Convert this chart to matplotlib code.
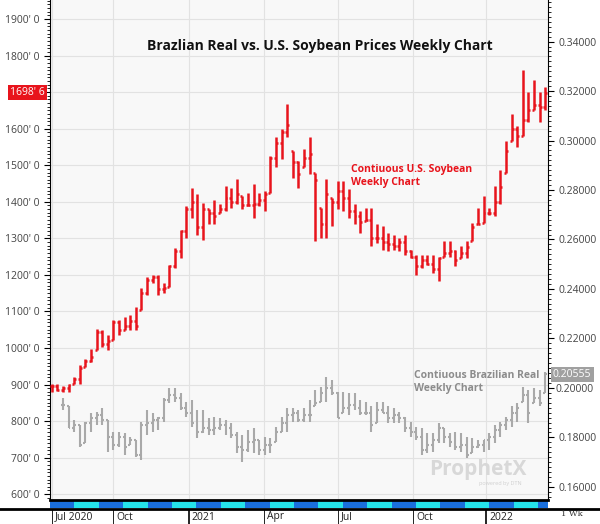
import numpy as np
import matplotlib
matplotlib.use("Agg")
import matplotlib.pyplot as plt
import matplotlib.transforms as mtransforms
from matplotlib.ticker import MultipleLocator, FuncFormatter

RED = "#e8141c"
GRAY = "#a9a9a9"
BG = "#f8f8f8"
GRID = "#e2e2e2"

plt.rcParams["font.family"] = ["Open Sans", "DejaVu Sans"]

# weekly soybean bars (cents/bu)
soy_high = [902, 902, 897, 902, 920, 952, 971, 998, 1053, 1049,
            1035, 1076, 1076, 1085, 1090, 1113, 1163, 1195, 1200, 1200,
            1177, 1228, 1273, 1324, 1388, 1439, 1420, 1397, 1379, 1406,
            1393, 1443, 1439, 1461, 1416, 1425, 1448, 1425, 1430, 1526,
            1576, 1599, 1668, 1539, 1512, 1544, 1576, 1480, 1383, 1461,
            1410, 1457, 1457, 1434, 1393, 1374, 1383, 1383, 1338, 1333,
            1315, 1310, 1301, 1310, 1269, 1255, 1255, 1255, 1255, 1250,
            1292, 1292, 1269, 1278, 1292, 1342, 1383, 1416, 1383, 1443,
            1488, 1567, 1640, 1608, 1760, 1700, 1732, 1700, 1714]
soy_low = [879, 883, 879, 879, 902, 902, 948, 961, 994, 1003,
           994, 1021, 1035, 1049, 1049, 1049, 1104, 1145, 1177, 1145,
           1150, 1168, 1218, 1246, 1301, 1356, 1310, 1296, 1338, 1338,
           1370, 1374, 1383, 1393, 1379, 1388, 1356, 1388, 1374, 1425,
           1494, 1517, 1576, 1466, 1439, 1494, 1475, 1292, 1301, 1301,
           1333, 1379, 1374, 1356, 1338, 1315, 1347, 1278, 1287, 1269,
           1264, 1269, 1264, 1255, 1246, 1200, 1218, 1228, 1205, 1182,
           1250, 1250, 1223, 1246, 1246, 1292, 1338, 1342, 1365, 1361,
           1393, 1480, 1567, 1549, 1581, 1617, 1650, 1617, 1650]
soy_close = [895, 885, 890, 900, 915, 945, 965, 975, 1045, 1010,
             1020, 1070, 1050, 1060, 1075, 1060, 1150, 1185, 1195, 1160,
             1165, 1225, 1265, 1320, 1380, 1400, 1330, 1380, 1370, 1360,
             1380, 1410, 1400, 1420, 1390, 1390, 1395, 1405, 1420, 1520,
             1560, 1590, 1610, 1510, 1475, 1520, 1530, 1460, 1340, 1420,
             1400, 1430, 1410, 1375, 1360, 1345, 1350, 1300, 1300, 1290,
             1285, 1280, 1290, 1265, 1250, 1225, 1240, 1230, 1215, 1245,
             1260, 1265, 1240, 1260, 1275, 1330, 1340, 1370, 1370, 1400,
             1440, 1540, 1600, 1580, 1625, 1650, 1665, 1660, 1698.75]

# weekly Brazilian real bars (USD per BRL)
brl_high = [0.1958, 0.1925, 0.1871, 0.1851, 0.1864, 0.1898, 0.1904, 0.1918, 0.1871, 0.1823,
            0.1823, 0.1817, 0.1803, 0.1790, 0.1864, 0.1911, 0.1898, 0.1884, 0.1958, 0.1999,
            0.1999, 0.1978, 0.1945, 0.1952, 0.1911, 0.1911, 0.1878, 0.1884, 0.1878, 0.1871,
            0.1857, 0.1823, 0.1810, 0.1830, 0.1837, 0.1790, 0.1803, 0.1797, 0.1844, 0.1884,
            0.1918, 0.1918, 0.1911, 0.1918, 0.1952, 0.1992, 0.2005, 0.2046, 0.2032, 0.1985,
            0.1985, 0.1978, 0.1978, 0.1952, 0.1945, 0.1925, 0.1945, 0.1945, 0.1925, 0.1918,
            0.1904, 0.1884, 0.1864, 0.1844, 0.1837, 0.1817, 0.1817, 0.1857, 0.1837, 0.1817,
            0.1823, 0.1817, 0.1803, 0.1797, 0.1790, 0.1790, 0.1817, 0.1851, 0.1864, 0.1884,
            0.1925, 0.1938, 0.2005, 0.1992, 0.1999, 0.1992, 0.2066]
brl_low = [0.1911, 0.1837, 0.1823, 0.1763, 0.1777, 0.1823, 0.1851, 0.1851, 0.1743, 0.1750,
           0.1763, 0.1729, 0.1770, 0.1722, 0.1709, 0.1810, 0.1823, 0.1830, 0.1864, 0.1938,
           0.1945, 0.1911, 0.1884, 0.1844, 0.1797, 0.1817, 0.1810, 0.1810, 0.1830, 0.1810,
           0.1797, 0.1736, 0.1702, 0.1743, 0.1736, 0.1729, 0.1729, 0.1736, 0.1783, 0.1823,
           0.1823, 0.1864, 0.1864, 0.1864, 0.1864, 0.1925, 0.1945, 0.1945, 0.1972, 0.1878,
           0.1898, 0.1891, 0.1911, 0.1891, 0.1891, 0.1823, 0.1857, 0.1898, 0.1857, 0.1857,
           0.1857, 0.1823, 0.1803, 0.1790, 0.1729, 0.1736, 0.1743, 0.1777, 0.1777, 0.1763,
           0.1750, 0.1743, 0.1716, 0.1736, 0.1756, 0.1743, 0.1750, 0.1777, 0.1803, 0.1830,
           0.1844, 0.1864, 0.1945, 0.1857, 0.1938, 0.1925, 0.1978]
brl_close = [0.193, 0.184, 0.185, 0.177, 0.186, 0.188, 0.189, 0.187, 0.180, 0.177,
             0.180, 0.176, 0.179, 0.173, 0.185, 0.186, 0.187, 0.188, 0.195, 0.197,
             0.196, 0.192, 0.190, 0.186, 0.182, 0.184, 0.183, 0.184, 0.185, 0.184,
             0.181, 0.176, 0.175, 0.178, 0.179, 0.175, 0.177, 0.177, 0.182, 0.186,
             0.189, 0.190, 0.187, 0.189, 0.189, 0.194, 0.198, 0.200, 0.198, 0.188,
             0.192, 0.193, 0.192, 0.190, 0.190, 0.185, 0.191, 0.190, 0.188, 0.189,
             0.188, 0.184, 0.182, 0.180, 0.175, 0.177, 0.179, 0.184, 0.180, 0.178,
             0.176, 0.177, 0.173, 0.176, 0.177, 0.179, 0.180, 0.183, 0.185, 0.187,
             0.190, 0.192, 0.197, 0.190, 0.196, 0.194, 0.20555]

date_labels = ["Jul 2020", "Oct", "2021", "Apr", "Jul", "Oct", "2022"]
date_pos = [0, 11, 24.4, 37.8, 51, 64.4, 77.5]


def ohlc(ax, x, hi, lo, cl, color, lw):
    hi, lo, cl = map(np.asarray, (hi, lo, cl))
    op = np.r_[cl[0], cl[:-1]]
    op = np.clip(op, lo, hi)
    cl = np.clip(cl, lo, hi)
    ax.vlines(x, lo, hi, color=color, lw=lw, zorder=3)
    ax.hlines(op, x - 0.35, x, color=color, lw=lw, zorder=3)
    ax.hlines(cl, x, x + 0.35, color=color, lw=lw, zorder=3)


W, H = 600, 524
fig = plt.figure(figsize=(6, 5.24), dpi=100)
ax = fig.add_axes([50 / W, 24 / H, 498 / W, 500 / H])
ax.set_facecolor(BG)
ax2 = ax.twinx()

xs = np.arange(len(soy_close))
xb = np.arange(len(brl_close)) + (len(soy_close) - len(brl_close))
ohlc(ax, xs, soy_high, soy_low, soy_close, RED, 1.8)
ohlc(ax2, xb, brl_high, brl_low, brl_close, GRAY, 1.5)

ax.set_xlim(-0.3, 88.5)
ax.set_ylim(584, 1952)
ax2.set_ylim(0.1547, 0.3568)

ax.yaxis.set_major_locator(MultipleLocator(100))
ax.yaxis.set_minor_locator(MultipleLocator(10))
ax.yaxis.set_major_formatter(FuncFormatter(lambda v, p: "" if int(v) == 1700 else f"{int(v)}' 0"))
ax2.yaxis.set_major_locator(MultipleLocator(0.02))
ax2.yaxis.set_minor_locator(MultipleLocator(0.002))
ax2.yaxis.set_major_formatter(FuncFormatter(lambda v, p: "" if abs(v - 0.2) < 1e-6 else f"{v:.5f}"))
for a in (ax, ax2):
    a.tick_params(axis="y", labelsize=7.5, labelcolor="#444444", length=4, width=0.8)
    a.tick_params(axis="y", which="minor", length=2, width=0.6)
    for s in a.spines.values():
        s.set_visible(False)
ax.spines["left"].set_visible(True)
ax2.spines["right"].set_visible(True)
ax.set_xticks(date_pos)
ax.tick_params(axis="x", length=0, labelbottom=False)
ax.grid(True, color=GRID, lw=0.8)
ax.set_axisbelow(True)

# price flags
ax.text(-0.01, 1698.75, "1698' 6", transform=mtransforms.blended_transform_factory(ax.transAxes, ax.transData),
        ha="right", va="center", fontsize=7.5, color="white",
        bbox=dict(boxstyle="square,pad=0.2", fc=RED, ec="none"), zorder=10, clip_on=False)
ax2.text(1.01, 0.20555, "0.20555", transform=mtransforms.blended_transform_factory(ax2.transAxes, ax2.transData),
         ha="left", va="center", fontsize=7.5, color="white",
         bbox=dict(boxstyle="square,pad=0.2", fc="#a0a0a0", ec="none"), zorder=10, clip_on=False)
fig.text(555 / W, 1 - 390 / H, "0.20000", ha="left", va="center", fontsize=7.5, color="#444444")

# text
fig.text(320 / W, 1 - 46 / H, "Brazlian Real vs. U.S. Soybean Prices Weekly Chart",
         ha="center", va="center", fontsize=10, fontweight="bold", color="#111111")
fig.text(351 / W, 1 - 176 / H, "Contiuous U.S. Soybean\nWeekly Chart",
         ha="left", va="center", fontsize=7.5, fontweight="bold", color=RED, linespacing=1.2)
fig.text(414 / W, 1 - 382 / H, "Contiuous Brazilian Real\nWeekly Chart",
         ha="left", va="center", fontsize=7.5, fontweight="bold", color="#8c8c8c", linespacing=1.2)
fig.text(478 / W, 1 - 470 / H, "ProphetX", ha="center", va="center", fontsize=15,
         fontweight="bold", color="#d8d8d8")
fig.text(500 / W, 1 - 484 / H, "powered by DTN", ha="center", va="center", fontsize=4,
         color="#d0d0d0")

# date band
band = fig.add_axes([50 / W, (H - 508) / H, 498 / W, 8 / H])
band.set_xlim(ax.get_xlim())
band.set_ylim(0, 1)
edges = np.arange(-0.3, 89, 4.35)
for i, e in enumerate(edges):
    band.axvspan(e, e + 4.35, color="#1a6fdc" if i % 2 == 0 else "#25e3ea", lw=0)
band.set_xticks([])
band.set_yticks([])
for s in band.spines.values():
    s.set_visible(False)
fig.add_artist(plt.Line2D([50 / W, 548 / W], [1 - 500 / H] * 2, color="black", lw=2))
fig.add_artist(plt.Line2D([0, 1], [1 - 509 / H] * 2, color="black", lw=2))
tr = mtransforms.blended_transform_factory(band.transData, fig.transFigure)
for p, lab in zip(date_pos, date_labels):
    band.plot([p, p], [1 - 510 / H, 1 - 524 / H], transform=tr, color="black",
              lw=1.2 if lab[0].isdigit() else 0.6, clip_on=False)
    band.text(p + 0.6, 1 - 517 / H, lab, transform=tr, ha="left", va="center",
              fontsize=7.5, color="#222222")
fig.text(572 / W, 1 - 514 / H, "1 Wk", ha="center", va="center", fontsize=6,
         family="DejaVu Serif", color="#333333")

fig.savefig("out.png", dpi=100, facecolor="white")
